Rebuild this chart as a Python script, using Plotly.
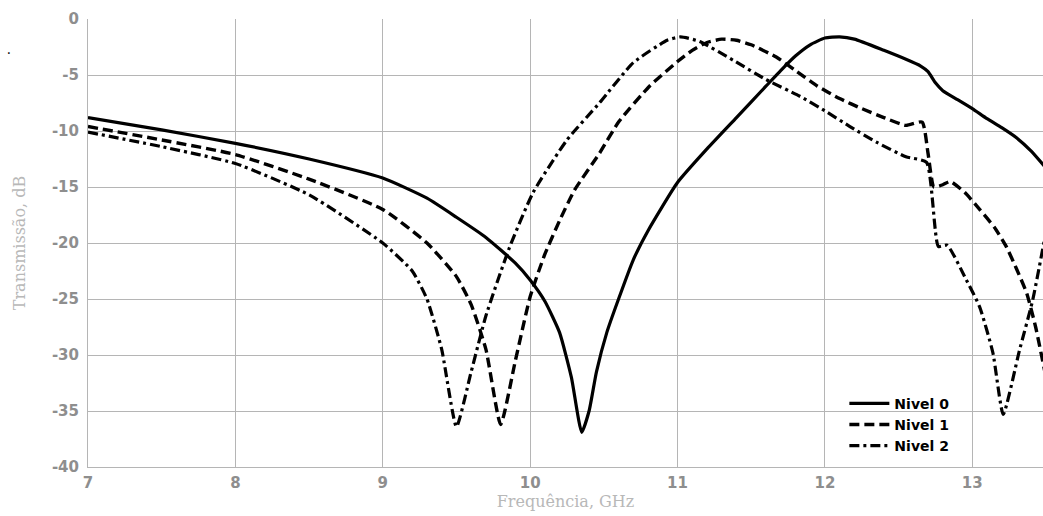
import plotly.graph_objects as go

# Nivel 0 (solid)
freq_n0 = [7.0, 7.5, 8.0, 8.5, 9.0, 9.3, 9.5, 9.7, 9.9, 10.0, 10.1, 10.2, 10.28, 10.35,
           10.4, 10.45, 10.52, 10.6, 10.7, 10.8, 11.0, 11.2, 11.4, 11.6, 11.7, 11.8, 11.9,
           12.0, 12.1, 12.2, 12.4, 12.55, 12.65, 12.7, 12.75, 12.8, 12.9, 13.0, 13.1, 13.2,
           13.3, 13.4, 13.5]
trans_n0 = [-8.8, -9.9, -11.1, -12.5, -14.2, -16.0, -17.7, -19.5, -21.8, -23.3, -25.2, -28.0, -32.0, -36.9,
            -35.0, -31.5, -28.0, -25.0, -21.5, -18.9, -14.6, -11.6, -8.8, -6.0, -4.6, -3.3, -2.3,
            -1.7, -1.6, -1.8, -2.8, -3.6, -4.2, -4.7, -5.7, -6.4, -7.2, -8.0, -8.9, -9.7,
            -10.6, -11.8, -13.3]

# Nivel 1 (dashed)
freq_n1 = [7.0, 7.5, 8.0, 8.5, 9.0, 9.3, 9.5, 9.6, 9.7, 9.8, 9.9, 10.0, 10.1, 10.2, 10.3,
           10.47, 10.6, 10.81, 11.0, 11.1, 11.2, 11.3, 11.4, 11.5, 11.67, 11.8, 11.95, 12.1,
           12.25, 12.4, 12.55, 12.66, 12.7, 12.74, 12.8, 12.85, 12.95, 13.05, 13.15, 13.23,
           13.3, 13.37, 13.43, 13.5]
trans_n1 = [-9.6, -10.8, -12.1, -14.3, -17.0, -20.0, -23.0, -25.5, -29.5, -36.2, -30.5, -24.8, -21.0, -18.0, -15.3,
            -12.0, -9.2, -6.0, -3.8, -2.8, -2.1, -1.8, -1.9, -2.3, -3.4, -4.6, -6.0, -7.1,
            -8.0, -8.8, -9.5, -9.2, -12.0, -15.0, -14.8, -14.5, -15.5, -17.0, -18.6, -20.3,
            -22.3, -24.5, -27.5, -32.0]

# Nivel 2 (dash-dot)
freq_n2 = [7.0, 7.5, 8.0, 8.5, 9.0, 9.2, 9.3, 9.4, 9.5, 9.6, 9.7, 9.86, 10.02, 10.25, 10.47,
           10.7, 10.93, 11.02, 11.15, 11.38, 11.6, 11.83, 12.0, 12.17, 12.35, 12.55, 12.69,
           12.77, 12.83, 12.96, 13.05, 13.14, 13.21, 13.32, 13.41, 13.5]
trans_n2 = [-10.1, -11.4, -12.9, -15.7, -20.0, -22.5, -25.0, -29.5, -36.4, -31.5, -26.5, -20.4, -15.5, -10.8, -7.5,
            -3.9, -1.9, -1.6, -2.0, -3.7, -5.4, -6.9, -8.2, -9.6, -11.0, -12.3, -12.8,
            -20.3, -20.2, -23.3, -25.7, -29.8, -35.3, -29.6, -25.1, -19.0]

names = ["Nivel 0", "Nivel 1", "Nivel 2"]
x_ticks = [7, 8, 9, 10, 11, 12, 13]
y_ticks = [0, -5, -10, -15, -20, -25, -30, -35, -40]

fig = go.Figure()
fig.add_trace(go.Scatter(x=freq_n0, y=trans_n0, name=names[0], mode="lines",
                         line=dict(color="black", width=3.2, shape="spline", smoothing=0.5)))
fig.add_trace(go.Scatter(x=freq_n1, y=trans_n1, name=names[1], mode="lines",
                         line=dict(color="black", width=3.4, dash="10px,5px",
                                   shape="spline", smoothing=0.5)))
fig.add_trace(go.Scatter(x=freq_n2, y=trans_n2, name=names[2], mode="lines",
                         line=dict(color="black", width=3.2, dash="10px,4px,3px,4px",
                                   shape="spline", smoothing=0.5)))

gray = "#8e8e8e"
tickfont = dict(family="DejaVu Sans", size=15, color=gray, weight="bold")
titlefont = dict(family="DejaVu Serif", size=16, color="#b8b8b8")
fig.update_layout(
    width=1043, height=516,
    margin=dict(l=88, r=0, t=19, b=49),
    paper_bgcolor="white", plot_bgcolor="white",
    showlegend=True,
    legend=dict(x=0.792, y=0.177, xanchor="left", yanchor="top",
                bgcolor="rgba(255,255,255,0)", borderwidth=0,
                font=dict(family="DejaVu Sans", size=14, color="black", weight="bold"),
                tracegroupgap=0, itemwidth=40),
    xaxis=dict(range=[7, 13.48], tickvals=x_ticks, ticktext=[str(v) for v in x_ticks],
               showgrid=True, gridcolor="#b5b5b5", gridwidth=1,
               showline=True, linecolor="#b5b5b5", linewidth=1,
               zeroline=False, ticks="", automargin=False, ticklabelstandoff=2,
               tickfont=tickfont,
               title=dict(text="Frequência, GHz", standoff=0, font=titlefont)),
    yaxis=dict(range=[-40, 0], tickvals=y_ticks, ticktext=[str(v) for v in y_ticks],
               showgrid=True, gridcolor="#b5b5b5", gridwidth=1,
               showline=True, linecolor="#b5b5b5", linewidth=1,
               zeroline=False, ticks="", ticklabelstandoff=5, automargin=False,
               tickfont=tickfont,
               title=dict(text="Transmissão, dB", standoff=22, font=titlefont)),
    annotations=[dict(text=".", x=-0.087, y=0.96, xref="paper", yref="paper",
                      showarrow=False, font=dict(size=14, color="black"))],
)

# remove the default page margin so the figure fills the window exactly
fig.write_html("out.html", config={"displayModeBar": False},
               post_script="document.body.style.margin='0px';document.body.style.overflow='hidden';")
